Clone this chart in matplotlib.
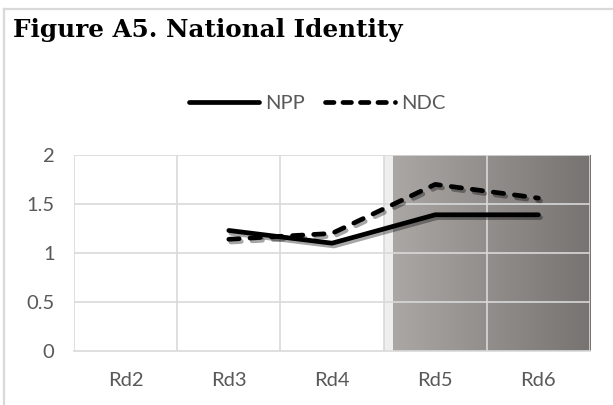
import numpy as np
import matplotlib
matplotlib.use('Agg')
import matplotlib.pyplot as plt
import matplotlib.patheffects as pe
from matplotlib.colors import LinearSegmentedColormap
from matplotlib.lines import Line2D

rounds = ['Rd2', 'Rd3', 'Rd4', 'Rd5', 'Rd6']
npp = [np.nan, 1.23, 1.10, 1.39, 1.39]
ndc = [np.nan, 1.14, 1.20, 1.70, 1.56]
y_ticks = [0, 0.5, 1, 1.5, 2]
y_labels = ['0', '0.5', '1', '1.5', '2']

W, H = 613, 405
fig = plt.figure(figsize=(W / 100, H / 100), dpi=100)

# frame of the figure box (top + left edges)
fig.add_artist(Line2D([4 / W, 1], [1 - 9 / H, 1 - 9 / H], color='#d9d9d9', lw=1.6))
fig.add_artist(Line2D([4 / W, 4 / W], [0, 1 - 9 / H], color='#d9d9d9', lw=1.6))

fig.text(13 / W, 1 - 30 / H, 'Figure A5. National Identity', fontsize=17.7,
         fontweight='bold', family='DejaVu Serif', va='center', ha='left', color='black')

left, right, top, bottom = 74, 590, 155, 351
ax = fig.add_axes([left / W, 1 - bottom / H, (right - left) / W, (bottom - top) / H])
x = np.arange(len(rounds))
ax.set_xlim(-0.5, len(rounds) - 0.5)
ax.set_ylim(0, 2)

# shaded region (gradient) behind Rd5-Rd6
cmap = LinearSegmentedColormap.from_list('shade', ['#aba7a5', '#777371'])
grad = np.linspace(0, 1, 256).reshape(1, -1)
ax.imshow(grad, cmap=cmap, aspect='auto', extent=(2.59, 4.5, 0, 2), zorder=0)
ax.axvspan(2.5, 2.59, color='#eeeeee', lw=0, zorder=0)

# gridlines at category boundaries + value ticks
for b in np.arange(-0.5, len(rounds) + 0.5, 1):
    ax.axvline(b, color='#d9d9d9', lw=1.2, zorder=1)
for t in y_ticks[1:]:
    ax.axhline(t, color='#d9d9d9', lw=1.2, zorder=1)

shadow = [pe.SimpleLineShadow(offset=(1.5, -2), alpha=0.35, shadow_color='black'), pe.Normal()]
ax.plot(x, npp, color='black', lw=3.4, solid_capstyle='round', path_effects=shadow, zorder=3)
ax.plot(x, ndc, color='black', lw=3.4, dashes=(2.2, 2.3), dash_capstyle='round',
        path_effects=shadow, zorder=3)

for s in ['top', 'right', 'left']:
    ax.spines[s].set_visible(False)
ax.spines['bottom'].set_color('#d9d9d9')
ax.spines['bottom'].set_linewidth(1.2)
ax.spines['bottom'].set_zorder(2)

ax.set_xticks(x)
ax.set_xticklabels(rounds)
ax.set_yticks(y_ticks)
ax.set_yticklabels(y_labels)
ax.tick_params(length=0, labelsize=14.5, labelcolor='#595959', pad=14)
ax.tick_params(axis='x', pad=15)
for lab in ax.get_xticklabels() + ax.get_yticklabels():
    lab.set_family('Lato')

# legend drawn as a row above the plot
leg_handles = [Line2D([], [], color='black', lw=3.4, solid_capstyle='round'),
               Line2D([], [], color='black', lw=3.4, dashes=(1.8, 1.9), dash_capstyle='round')]
leg = fig.legend(leg_handles, ['NPP', 'NDC'], loc='center', bbox_to_anchor=(317 / W, 1 - 103 / H),
                 ncol=2, frameon=False, handlelength=3.49, handletextpad=0.3, columnspacing=1.0,
                 prop={'family': 'Lato', 'size': 14.5})
for t in leg.get_texts():
    t.set_color('#595959')

fig.savefig('out.png', dpi=100)
